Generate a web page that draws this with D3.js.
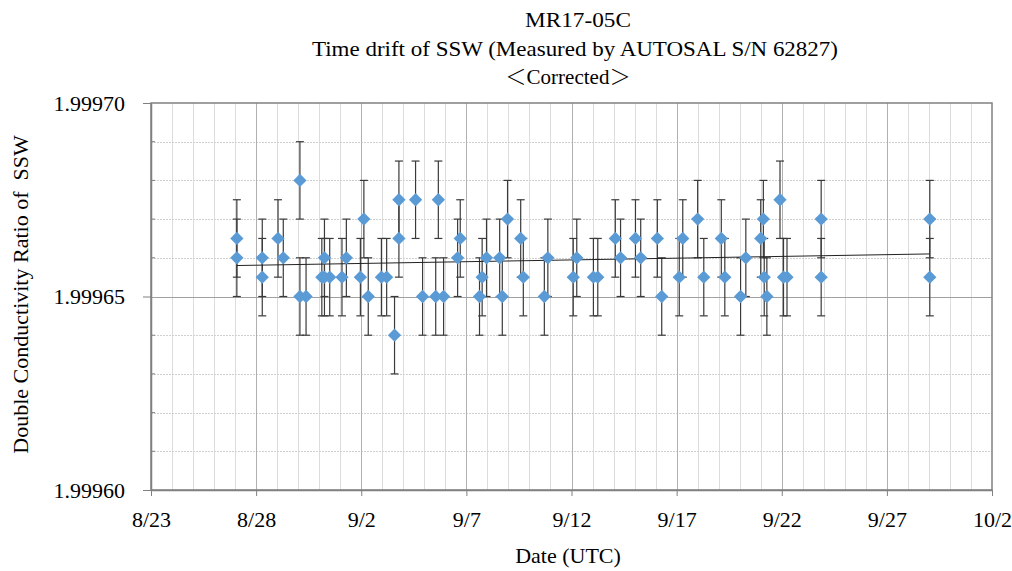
<!DOCTYPE html>
<html><head><meta charset="utf-8">
<script src="https://cdn.jsdelivr.net/npm/d3@7"></script>
<style>body{margin:0;background:#fff}svg{display:block}text{font-family:"Liberation Serif","Times New Roman",serif;fill:#000;white-space:pre}</style>
</head><body>
<svg id="c" width="1012" height="571"></svg>
<script>
const titleLines = ["MR17-05C", "Time drift of SSW (Measured by AUTOSAL S/N 62827)", "\uFF1CCorrected\uFF1E"];
const xTitle = "Date (UTC)";
const yTitle = "Double Conductivity Ratio of  SSW";
const xTickDates = ["2017-08-23","2017-08-28","2017-09-02","2017-09-07","2017-09-12","2017-09-17","2017-09-22","2017-09-27","2017-10-02"];
const xTickLabels = ["8/23","8/28","9/2","9/7","9/12","9/17","9/22","9/27","10/2"];
const yTickValues = [1.99960, 1.99965, 1.99970];
const yTickLabels = ["1.99960","1.99965","1.99970"];
const measTimes = [
 "2017-08-27T02:00","2017-08-27T02:00","2017-08-28T07:00","2017-08-28T07:00","2017-08-29T01:00","2017-08-29T07:00",
 "2017-08-30T02:00","2017-08-30T02:00","2017-08-30T09:00","2017-08-31T03:00","2017-08-31T06:00","2017-08-31T06:00",
 "2017-08-31T12:00","2017-09-01T02:00","2017-09-01T07:00","2017-09-01T23:00","2017-09-02T03:00","2017-09-02T08:00",
 "2017-09-02T23:00","2017-09-03T05:00","2017-09-03T14:00","2017-09-03T19:00","2017-09-03T19:00","2017-09-04T14:00",
 "2017-09-04T22:00","2017-09-05T13:00","2017-09-05T16:00","2017-09-05T22:00","2017-09-06T14:00","2017-09-06T17:00",
 "2017-09-07T15:00","2017-09-07T18:00","2017-09-07T23:00","2017-09-08T14:00","2017-09-08T17:00","2017-09-08T23:00",
 "2017-09-09T14:00","2017-09-09T17:00","2017-09-10T17:00","2017-09-10T21:00","2017-09-12T02:00","2017-09-12T06:00",
 "2017-09-13T01:00","2017-09-13T06:00","2017-09-14T02:00","2017-09-14T08:00","2017-09-15T01:00","2017-09-15T07:00",
 "2017-09-16T02:00","2017-09-16T07:00","2017-09-17T03:00","2017-09-17T07:00","2017-09-18T00:00","2017-09-18T07:00",
 "2017-09-19T03:00","2017-09-19T07:00","2017-09-20T01:00","2017-09-20T07:00","2017-09-21T00:00","2017-09-21T03:00",
 "2017-09-21T04:00","2017-09-21T07:00","2017-09-21T22:00","2017-09-22T02:00","2017-09-22T06:00","2017-09-23T21:00",
 "2017-09-23T21:00","2017-09-29T01:00","2017-09-29T01:00"];
const ratios = [
 1.999665,1.99966,1.99966,1.999655,1.999665,1.99966,
 1.99968,1.99965,1.99965,1.999655,1.99966,1.999655,
 1.999655,1.999655,1.99966,1.999655,1.99967,1.99965,
 1.999655,1.999655,1.99964,1.999675,1.999665,1.999675,
 1.99965,1.99965,1.999675,1.99965,1.99966,1.999665,
 1.99965,1.999655,1.99966,1.99966,1.99965,1.99967,
 1.999665,1.999655,1.99965,1.99966,1.999655,1.99966,
 1.999655,1.999655,1.999665,1.99966,1.999665,1.99966,
 1.999665,1.99965,1.999655,1.999665,1.99967,1.999655,
 1.999665,1.999655,1.99965,1.99966,1.999665,1.99967,
 1.999655,1.99965,1.999675,1.999655,1.999655,1.99967,
 1.999655,1.99967,1.999655];
const errorHalf = 0.00001;
const trendTimes = ["2017-08-27T02:00","2017-09-29T01:00"];
const trendValues = [1.999658, 1.999661];

const parse = d3.timeParse("%Y-%m-%dT%H:%M");
const pd = d3.timeParse("%Y-%m-%d");
const svg = d3.select("#c");
const L=151,R=992,T=103,B=490;
const x = d3.scaleTime().domain([pd(xTickDates[0]), pd(xTickDates[xTickDates.length-1])]).range([L,R]);
const y = d3.scaleLinear().domain([1.99960,1.99970]).range([B,T]);

// grid
const days = d3.timeDay.range(pd(xTickDates[0]), d3.timeDay.offset(pd(xTickDates[xTickDates.length-1]),1));
const majorSet = new Set(xTickDates);
const fmt = d3.timeFormat("%Y-%m-%d");
svg.append("g").selectAll("line").data(days.filter(d=>!majorSet.has(fmt(d)))).join("line")
 .attr("x1",d=>Math.round(x(d))+0.5).attr("x2",d=>Math.round(x(d))+0.5).attr("y1",T).attr("y2",B)
 .attr("stroke","#dcdcdc").attr("stroke-width",1);
const yMinor = d3.range(1,10).map(i=>1.99960+i*0.00001).filter(v=>Math.abs(v-1.99965)>1e-9);
svg.append("g").selectAll("line").data(yMinor).join("line")
 .attr("x1",L).attr("x2",R).attr("y1",d=>Math.round(y(d))+0.5).attr("y2",d=>Math.round(y(d))+0.5)
 .attr("stroke","#d0d0d0").attr("stroke-width",1).attr("stroke-dasharray","2,1");
svg.append("g").selectAll("line").data(xTickDates.slice(1,-1)).join("line")
 .attr("x1",d=>Math.round(x(pd(d)))+0.5).attr("x2",d=>Math.round(x(pd(d)))+0.5).attr("y1",T).attr("y2",B)
 .attr("stroke","#b0b0b0").attr("stroke-width",1);
svg.append("line").attr("x1",L).attr("x2",R).attr("y1",Math.round(y(1.99965))+0.5).attr("y2",Math.round(y(1.99965))+0.5)
 .attr("stroke","#a0a0a0").attr("stroke-width",1.2);

// frame
svg.append("rect").attr("x",L).attr("y",T).attr("width",R-L).attr("height",B-T)
 .attr("fill","none").attr("stroke","#808080").attr("stroke-width",1.5);

// axes
const xAxis = d3.axisBottom(x).tickValues(xTickDates.map(pd)).tickFormat((d,i)=>xTickLabels[i]).tickSize(6).tickSizeOuter(0);
const gx = svg.append("g").attr("transform",`translate(0,${B})`).call(xAxis);
gx.select(".domain").attr("stroke","#808080").attr("stroke-width",1.5);
gx.selectAll(".tick line").attr("stroke","#808080");
gx.selectAll(".tick text").attr("font-size",22).attr("dy","1.25em").attr("fill","#000");
const yAxis = d3.axisLeft(y).tickValues(yTickValues).tickFormat((d,i)=>yTickLabels[i]).tickSize(8).tickSizeOuter(0).tickPadding(18);
const gy = svg.append("g").attr("transform",`translate(${L},0)`).call(yAxis);
gy.select(".domain").attr("stroke","#808080").attr("stroke-width",1.5);
gy.selectAll(".tick line").attr("stroke","#808080");
gy.selectAll(".tick text").attr("font-size",22).attr("fill","#000");
svg.append("g").selectAll("line").data(yMinor).join("line")
 .attr("x1",L).attr("x2",L+4).attr("y1",d=>y(d)).attr("y2",d=>y(d)).attr("stroke","#808080");

// data
const pts = measTimes.map((t,i)=>({t:parse(t), v:ratios[i]}));
const eb = svg.append("g").attr("stroke","#3a3a3a").attr("stroke-width",1.2);
pts.forEach(p=>{
  const px=x(p.t), y1=y(p.v+errorHalf), y2=y(p.v-errorHalf);
  eb.append("line").attr("x1",px).attr("x2",px).attr("y1",y1).attr("y2",y2);
  eb.append("line").attr("x1",px-4).attr("x2",px+4).attr("y1",y1).attr("y2",y1);
  eb.append("line").attr("x1",px-4).attr("x2",px+4).attr("y1",y2).attr("y2",y2);
});
svg.append("line").attr("x1",x(parse(trendTimes[0]))).attr("x2",x(parse(trendTimes[1])))
 .attr("y1",y(trendValues[0])).attr("y2",y(trendValues[1])).attr("stroke","#222").attr("stroke-width",1);
const sym = d3.symbol().type(d3.symbolSquare).size(88);
svg.append("g").selectAll("path").data(pts).join("path")
 .attr("d",sym).attr("fill","#5b9bd5")
 .attr("transform",d=>`translate(${x(d.t)},${y(d.v)}) rotate(45)`);

// titles
const tg = svg.append("g");
tg.append("text").attr("x",578).attr("y",27).attr("text-anchor","middle").attr("font-size",21)
  .attr("textLength",106).attr("lengthAdjust","spacingAndGlyphs").text(titleLines[0]);
tg.append("text").attr("x",575).attr("y",56).attr("text-anchor","middle").attr("font-size",21)
  .attr("textLength",526).attr("lengthAdjust","spacingAndGlyphs").text(titleLines[1]);
const t3 = tg.append("text").attr("x",568).attr("y",84).attr("text-anchor","middle").attr("font-size",21);
const parts3 = [titleLines[2].slice(0,1), titleLines[2].slice(1,-1), titleLines[2].slice(-1)];
t3.selectAll("tspan").data(parts3).join("tspan")
  .style("font-family",(d,i)=> i===1 ? null : '"Noto Sans CJK JP"').attr("font-weight",(d,i)=>i===1?null:300).text(d=>d);
svg.append("text").attr("x",568).attr("y",563).attr("text-anchor","middle").attr("font-size",22).text(xTitle);
svg.append("text").attr("transform",`translate(28,${(T+B)/2-2}) rotate(-90)`).attr("text-anchor","middle").attr("font-size",22).text(yTitle);
</script>
</body></html>
